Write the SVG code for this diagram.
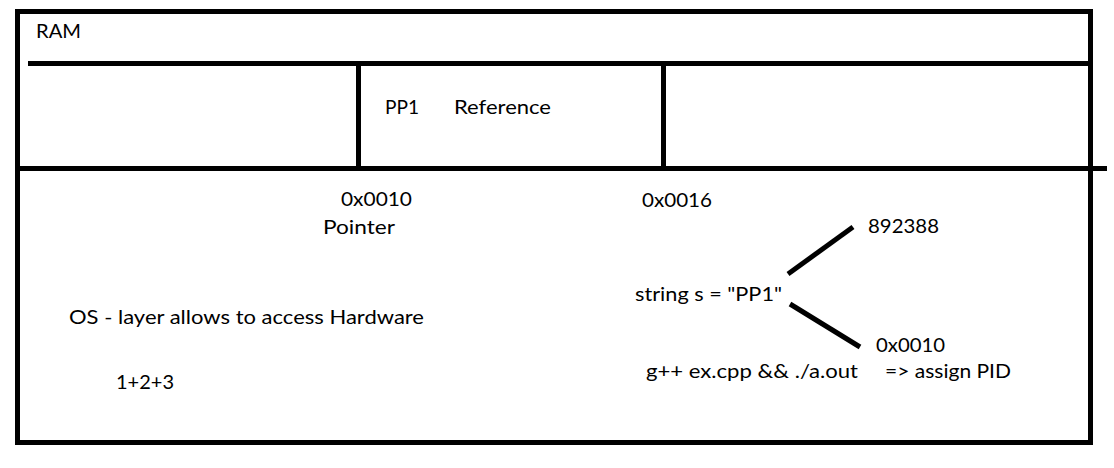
<svg xmlns="http://www.w3.org/2000/svg" width="1114" height="468" viewBox="0 0 1114 468">
<style>
.ln{stroke:#000;stroke-width:5;fill:none;stroke-linecap:butt}
.tx{font-family:Lato,"Liberation Sans",sans-serif;font-size:20px;fill:#000}
</style>
<rect width="1114" height="468" fill="#fff"/>
<g id="ram">
<rect class="ln" x="17.5" y="11.5" width="1073" height="431"/>
<text class="tx" x="36" y="38" textLength="45" lengthAdjust="spacingAndGlyphs">RAM</text>
</g>
<g id="grid">
<line class="ln" x1="28" y1="63.5" x2="1090" y2="63.5" stroke-linecap="round"/>
<line class="ln" x1="17" y1="168.5" x2="1107" y2="168.5"/>
<line class="ln" x1="358.5" y1="63" x2="358.5" y2="168"/>
<line class="ln" x1="663.5" y1="63" x2="663.5" y2="168"/>
</g>
<g id="pp1">
<text class="tx" x="385" y="114" textLength="34" lengthAdjust="spacingAndGlyphs">PP1</text>
<text class="tx" x="454" y="114" textLength="97" lengthAdjust="spacingAndGlyphs">Reference</text>
</g>
<g id="addr1">
<text class="tx" x="341" y="206" textLength="71" lengthAdjust="spacingAndGlyphs">0x0010</text>
<text class="tx" x="323" y="234" textLength="72" lengthAdjust="spacingAndGlyphs">Pointer</text>
</g>
<g id="addr2">
<text class="tx" x="642" y="207" textLength="70" lengthAdjust="spacingAndGlyphs">0x0016</text>
</g>
<g id="string">
<text class="tx" x="635" y="301" textLength="147" lengthAdjust="spacingAndGlyphs">string s = "PP1"</text>
</g>
<g id="value">
<text class="tx" x="868" y="233" textLength="71" lengthAdjust="spacingAndGlyphs">892388</text>
</g>
<g id="address">
<text class="tx" x="876" y="352" textLength="69" lengthAdjust="spacingAndGlyphs">0x0010</text>
</g>
<g id="compile">
<text class="tx" x="646" y="378" textLength="212" lengthAdjust="spacingAndGlyphs">g++ ex.cpp &amp;&amp; ./a.out</text>
<text class="tx" x="885" y="378" textLength="126" lengthAdjust="spacingAndGlyphs">=&gt; assign PID</text>
</g>
<g id="os">
<text class="tx" x="69" y="324" textLength="355" lengthAdjust="spacingAndGlyphs">OS - layer allows to access Hardware</text>
<text class="tx" x="116" y="389" textLength="58" lengthAdjust="spacingAndGlyphs">1+2+3</text>
</g>
<g id="connectors">
<line class="ln" x1="788" y1="274" x2="853" y2="227" stroke-linecap="round"/>
<line class="ln" x1="790" y1="304" x2="860" y2="347" stroke-linecap="round"/>
</g>
</svg>
